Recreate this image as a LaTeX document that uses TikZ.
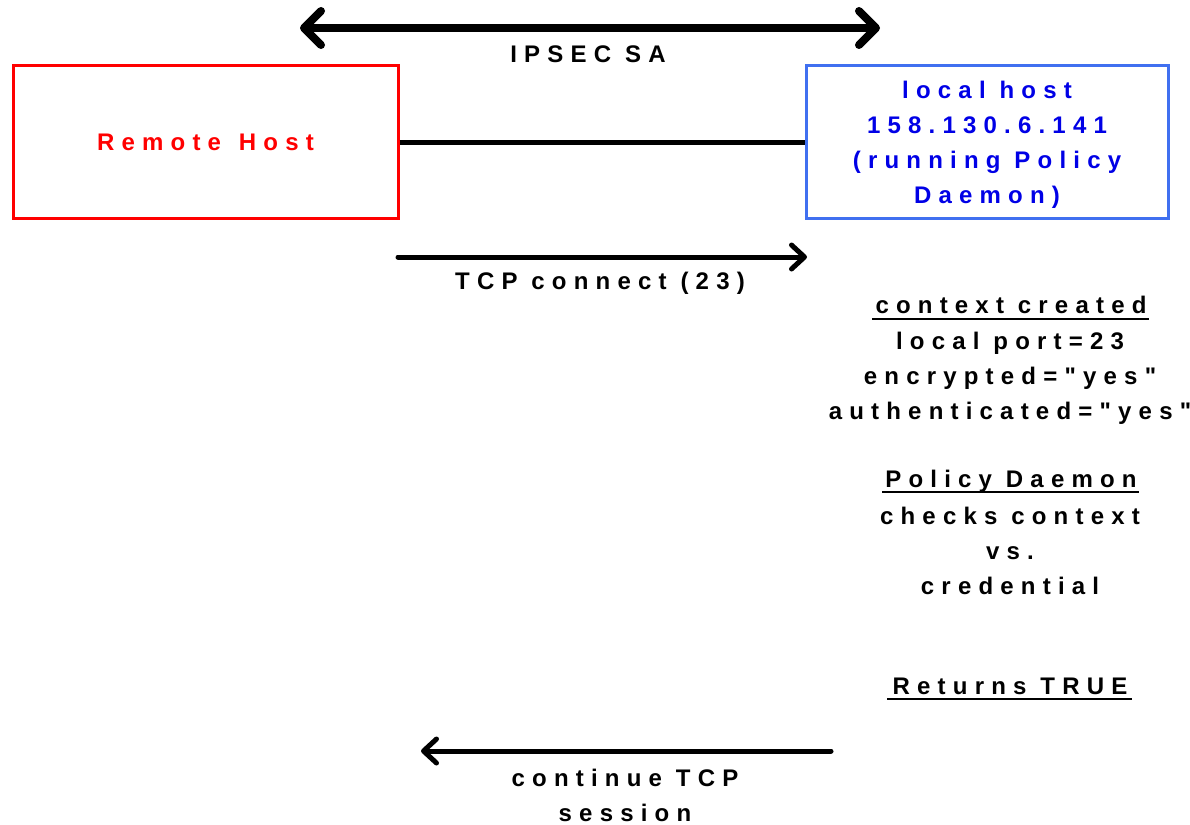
\documentclass[tikz,border=0pt]{standalone}
\usepackage{fontspec}
\setmainfont{Liberation Sans}[LetterSpace=30, Ligatures=TeXOff]
\usetikzlibrary{arrows.meta}
\definecolor{hostred}{RGB}{255,0,0}
\definecolor{hostblue}{RGB}{64,112,240}
\definecolor{textblue}{RGB}{0,0,230}
\begin{document}
\begin{tikzpicture}[x=1pt,y=-1pt,
  lbl/.style={font=\fontsize{24}{35}\selectfont\bfseries, inner sep=0pt, align=center},
  hostbox/.style={draw, line width=3pt, minimum width=385pt, minimum height=152pt, inner sep=0pt},
  bigarrow/.style={line width=8pt, line cap=round, {Straight Barb[length=17pt,width=34pt,round]}-{Straight Barb[length=17pt,width=34pt,round]}},
  msgarrow/.style={line width=5pt, line cap=round, -{Straight Barb[length=13pt,width=24pt,round]}},
  uline/.style={line width=2pt}]
\useasboundingbox (0,0) rectangle (1190,824);

% the two hosts and the link between them
\node[hostbox, lbl, draw=hostred, text=hostred, minimum width=385pt, minimum height=152pt] (remote) at (205.5,142) {Remote\hspace{4pt} Host};
\node[hostbox, draw=hostblue, minimum width=362pt] (local) at (987,142) {};
\node[lbl, text=textblue] (localtxt) at (987,145) {local host\\158.130.6.141\\(running Policy\\Daemon)};
\draw[line width=5pt] (remote.east) -- (local.west);

% security association spanning both hosts
\coordinate (saL) at (300,28);
\coordinate (saR) at (880,28);
\draw[bigarrow] (saL) -- (saR);
\node[lbl] (sa) at (588,54) {IPSEC SA};

% connection request
\coordinate (tcpL) at (398,257);
\coordinate (tcpR) at (807,257);
\draw[msgarrow] (tcpL) -- (tcpR);
\node[lbl] (tcp) at (600,283) {TCP connect (23)};

% context created by the local host
\node[lbl] (ctx) at (1011,305) {context created};
\draw[uline] ([xshift=-3pt,yshift=-5pt]ctx.base west) -- ([xshift=2pt,yshift=-5pt]ctx.base east);
\node[lbl] (ctxbody) at (1010,378.5) {local port=23\\encrypted="yes"\\authenticated="yes"};

% policy check
\node[lbl] (pd) at (1011,481) {Policy Daemon};
\draw[uline] ([xshift=-3pt,yshift=-5pt]pd.base west) -- ([xshift=2pt,yshift=-5pt]pd.base east);
\node[lbl] (pdbody) at (1010,551) {checks context\\vs.\\credential};

% result
\node[lbl] (ret) at (1010,686) {Returns TRUE};
\draw[uline] ([xshift=-5pt,yshift=-5pt]ret.base west) -- ([xshift=4pt,yshift=-5pt]ret.base east);

% reply to the remote host
\coordinate (contR) at (831,751);
\coordinate (contL) at (421,751);
\draw[msgarrow] (contR) -- (contL);
\node[lbl] (cont) at (625,795) {continue TCP\\session};
\end{tikzpicture}
\end{document}
